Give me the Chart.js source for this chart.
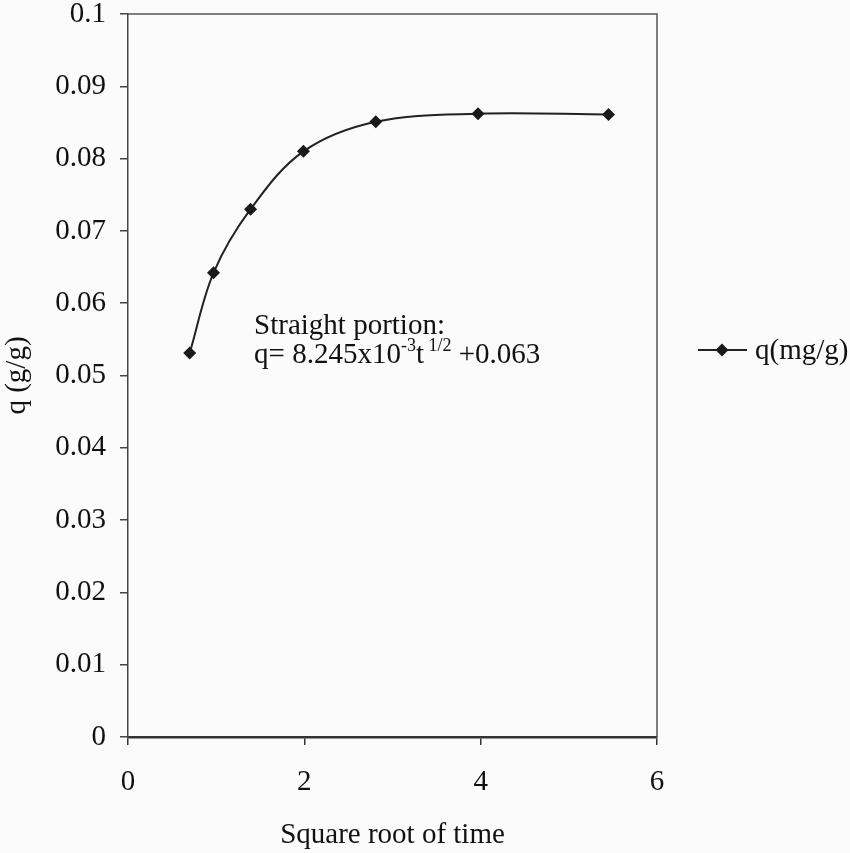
<!DOCTYPE html>
<html>
<head>
<meta charset="utf-8">
<script src="https://cdn.jsdelivr.net/npm/chart.js@4.4.0/dist/chart.umd.min.js"></script>
<style>
  html, body { margin: 0; padding: 0; background: #fbfbfb; }
  #wrap { width: 850px; height: 853px; position: relative; }
</style>
</head>
<body>
<div id="wrap"><canvas id="chart" width="850" height="853"></canvas></div>
<script>
// Uptake q against the square root of contact time
const sqrtTime = [0.70, 0.97, 1.39, 1.99, 2.81, 3.97, 5.45];
const qValues  = [0.0531, 0.0642, 0.0730, 0.0810, 0.0851, 0.0862, 0.0861];
const seriesName = 'q(mg/g)';

const yTickLabels = ['0', '0.01', '0.02', '0.03', '0.04', '0.05', '0.06', '0.07', '0.08', '0.09', '0.1'];
const xTickLabels = ['0', '2', '4', '6'];
const xTitle = 'Square root of time';
const yTitle = 'q (g/g)';
const noteLine1 = 'Straight portion:';

const FONT = '"Liberation Serif", "Times New Roman", serif';
const INK = '#111111';
const points = sqrtTime.map((x, i) => ({ x: x, y: qValues[i] }));

// outer frame: top and right edges of the plot box
const framePlugin = {
  id: 'frame',
  beforeDatasetsDraw(chart) {
    const { ctx, chartArea: a } = chart;
    ctx.save();
    ctx.strokeStyle = '#555';
    ctx.lineWidth = 1.5;
    ctx.beginPath();
    ctx.moveTo(a.left, a.top);
    ctx.lineTo(a.right, a.top);
    ctx.lineTo(a.right, a.bottom);
    ctx.stroke();
    ctx.restore();
  }
};

// regression note and the series key
const notesPlugin = {
  id: 'notes',
  afterDraw(chart) {
    const { ctx, chartArea: a } = chart;
    const xs = chart.scales.x, ys = chart.scales.y;
    ctx.save();
    ctx.fillStyle = INK;
    ctx.textBaseline = 'alphabetic';
    ctx.textAlign = 'left';
    const big = '29px ' + FONT, small = '18px ' + FONT;
    let x = xs.getPixelForValue(1.43);
    const y1 = ys.getPixelForValue(0.0557);
    const y2 = ys.getPixelForValue(0.0517);
    ctx.font = big;
    ctx.fillText(noteLine1, x, y1);
    const parts = [
      ['q= 8.245x10', big, 0],
      ['-3', small, -12],
      ['t', big, 0],
      [' 1/2', small, -12],
      [' +0.063', big, 0]
    ];
    parts.forEach(([t, f, dy]) => {
      ctx.font = f;
      ctx.fillText(t, x, y2 + dy);
      x += ctx.measureText(t).width;
    });

    // series key to the right of the plot
    const ky = a.top + 336;
    const kx = a.right + 41;
    ctx.strokeStyle = '#222';
    ctx.lineWidth = 2;
    ctx.beginPath();
    ctx.moveTo(kx, ky);
    ctx.lineTo(kx + 49, ky);
    ctx.stroke();
    ctx.fillStyle = '#1a1a1a';
    const cx = kx + 24, r = 6.5;
    ctx.beginPath();
    ctx.moveTo(cx, ky - r);
    ctx.lineTo(cx + r, ky);
    ctx.lineTo(cx, ky + r);
    ctx.lineTo(cx - r, ky);
    ctx.closePath();
    ctx.fill();
    ctx.fillStyle = INK;
    ctx.font = big;
    ctx.textBaseline = 'middle';
    ctx.fillText(seriesName, kx + 57, ky + 1);
    ctx.restore();
  }
};

new Chart(document.getElementById('chart'), {
  type: 'scatter',
  data: {
    datasets: [{
      label: seriesName,
      data: points,
      showLine: true,
      borderColor: '#222',
      borderWidth: 2,
      tension: 0.35,
      pointStyle: 'rectRot',
      pointRadius: 6.5,
      pointHoverRadius: 6.5,
      pointBackgroundColor: '#1a1a1a',
      pointBorderColor: '#1a1a1a',
      pointBorderWidth: 0
    }]
  },
  options: {
    responsive: false,
    animation: false,
    events: [],
    layout: { padding: { left: 0, top: 14, right: 193, bottom: 0 } },
    plugins: {
      legend: { display: false },
      tooltip: { enabled: false }
    },
    scales: {
      x: {
        type: 'linear',
        min: 0, max: 6,
        border: { display: true, color: '#333', width: 2.5 },
        grid: { drawOnChartArea: false, drawTicks: true, tickLength: 8, color: '#333', lineWidth: 1.5 },
        ticks: {
          stepSize: 2,
          padding: 20,
          color: INK,
          font: { family: FONT, size: 29 },
          callback: (v, i) => xTickLabels[i]
        },
        title: {
          display: true,
          text: xTitle,
          color: INK,
          font: { family: FONT, size: 29 },
          padding: { top: 0, bottom: 0 }
        },
        afterFit(scale) { scale.height = 116; scale.paddingLeft = 0; scale.paddingRight = 0; }
      },
      y: {
        type: 'linear',
        min: 0, max: 0.1,
        border: { display: true, color: '#444', width: 1.5 },
        grid: { drawOnChartArea: false, drawTicks: true, tickLength: 8, color: '#444', lineWidth: 1.5 },
        ticks: {
          stepSize: 0.01,
          padding: 14,
          color: INK,
          font: { family: FONT, size: 29 },
          callback: (v, i) => yTickLabels[i]
        },
        title: {
          display: true,
          text: yTitle,
          color: INK,
          font: { family: FONT, size: 29 },
          padding: { top: 0, bottom: 0 }
        },
        afterFit(scale) { scale.width = 128; scale.paddingTop = 0; scale.paddingBottom = 0; }
      }
    }
  },
  plugins: [framePlugin, notesPlugin]
});
</script>
</body>
</html>
